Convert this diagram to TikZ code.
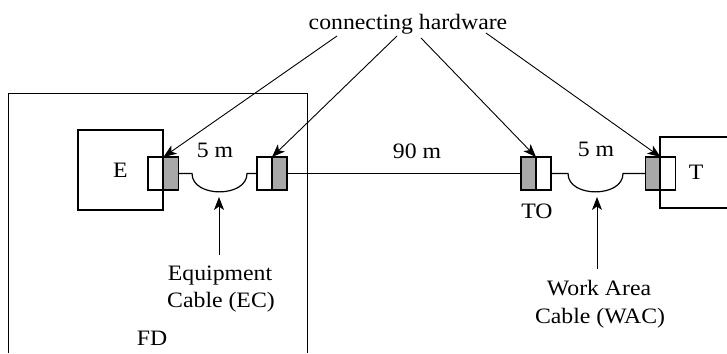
\documentclass[tikz,border=0pt]{standalone}
\usepackage{fontspec}
\setmainfont{Liberation Serif}[FakeStretch=1.08]
\usetikzlibrary{arrows.meta}
\definecolor{conngray}{RGB}{168,168,168}
\begin{document}
\begin{tikzpicture}[x=1pt,y=-1pt,
  font=\fontsize{22}{26}\selectfont,
  lbl/.style={anchor=base,inner sep=0pt},
  conn/.style={draw,line width=1.6pt,minimum width=15pt,minimum height=33pt,inner sep=0pt,outer sep=0pt},
  conngrey/.style={conn,fill=conngray},
  connwhite/.style={conn,fill=white},
  boxthick/.style={draw,line width=1.6pt},
  boxthin/.style={draw,line width=1pt},
  cable/.style={line width=1.2pt},
  arr/.style={-{Stealth[length=13pt,width=10pt,inset=3.5pt]},line width=0.9pt}]
\useasboundingbox (0,0) rectangle (727,353);
% FD room (open at the bottom)
\draw[boxthin] (8,353) -- (8,93) -- (307,93) -- (307,353);
\node[lbl] (fd) at (152,345) {FD};
% equipment E
\node[boxthick,minimum width=85pt,minimum height=80pt,inner sep=0pt] (E) at (120.5,170) {E};
% terminal T (cut off on the right)
\draw[boxthick] (727,137) -- (660,137) -- (660,208) -- (727,208);
\node[lbl] (T) at (696,179) {T};
% connectors
\node[connwhite] (c1w) at (155.5,173.5) {};
\node[conngrey]  (c1g) at (171,173.5) {};
\node[connwhite] (c2w) at (264.5,173.5) {};
\node[conngrey]  (c2g) at (279.5,173.5) {};
\node[conngrey]  (tog) at (528.5,173.5) {};
\node[connwhite] (tow) at (543.5,173.5) {};
\node[conngrey]  (tg)  at (653,173.5) {};
\node[connwhite] (tw)  at (668,173.5) {};
\draw[boxthick] (660,137) -- (660,208);
% cables
\draw[cable] (c1g.east) -- (192,173.5) .. controls (192,198) and (247,198) .. (247,173.5) -- (c2w.west);
\draw[cable] (c2g.east) -- (tog.west);
\draw[cable] (tow.east) -- (568,173.5) .. controls (568,198) and (623,198) .. (623,173.5) -- (tg.west);
% length labels
\node[lbl] (l1) at (215,157) {5 m};
\node[lbl] (l2) at (417,158) {90 m};
\node[lbl] (l3) at (596,156) {5 m};
\node[lbl] (TO) at (537,218) {TO};
% connecting hardware
\node[lbl] (hw) at (408,30) {connecting hardware};
\coordinate (a1) at (337,36);
\coordinate (a2) at (397,36);
\coordinate (a3) at (421,38);
\coordinate (a4) at (486,33);
\draw[arr] (a1) -- (c1g.north west);
\draw[arr] (a2) -- (c2g.north west);
\draw[arr] (a3) -- (tow.north west);
\draw[arr] (a4) -- (tw.north west);
% equipment cable
\node[lbl] (ec1) at (220,280) {Equipment};
\node[lbl] (ec2) at (221,307) {Cable (EC)};
\coordinate (ectip) at (219,197);
\draw[arr] (219,255) -- (ectip);
% work area cable
\node[lbl] (wa1) at (599,295) {Work Area};
\node[lbl] (wa2) at (600,323) {Cable (WAC)};
\coordinate (watip) at (597,197);
\draw[arr] (597,269) -- (watip);
\end{tikzpicture}
\end{document}
